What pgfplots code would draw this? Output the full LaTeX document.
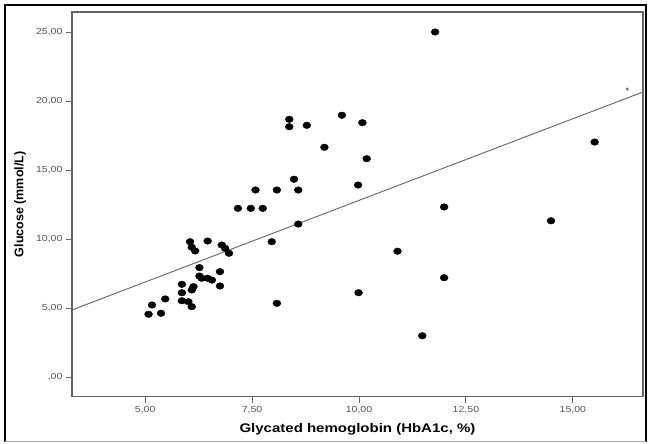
\documentclass[border=0pt]{standalone}
\usepackage{fontspec}
\setmainfont{Liberation Sans}
\newfontfamily\widesans[FakeStretch=1.2]{Liberation Sans}
\usepackage{pgfplots}
\pgfplotsset{compat=1.18}
\definecolor{axgray}{RGB}{100,100,100}
\definecolor{lblgray}{RGB}{85,85,85}
\begin{document}
\begin{tikzpicture}[x=1pt,y=1pt]
\path[use as bounding box] (0,0) rectangle (649,444);
\draw[black,line width=2pt] (5,2) -- (5,439) -- (646,439) -- (646,2);
\draw[black!35,line width=1pt] (5,2) -- (646,2);
\begin{axis}[
  at={(72pt,47.3pt)}, anchor=south west,
  scale only axis, width=571pt, height=384.7pt,
  xmin=3.29, xmax=16.64, ymin=-1.43, ymax=26.47,
  axis line style={axgray, line width=1.2pt},
  xtick={5,7.5,10,12.5,15},
  xticklabels={{5,00},{7,50},{10,00},{12,50},{15,00}},
  ytick={0,5,10,15,20,25},
  yticklabels={{,00},{5,00},{10,00},{15,00},{20,00},{25,00}},
  tick align=outside, major tick length=6pt,
  tick style={axgray, line width=0.9pt},
  xtick pos=bottom, ytick pos=left,
  tick label style={font=\widesans\fontsize{8.8}{9}\selectfont, text=lblgray},
  every axis x label/.style={at={(axis description cs:0.5,-0.0858)}, anchor=center},
  every axis y label/.style={at={(axis description cs:-0.091,0.5)}, rotate=90, anchor=center},
  xlabel={\widesans\bfseries\fontsize{12.5}{14}\selectfont Glycated hemoglobin (HbA1c, \%)},
  ylabel={\bfseries\fontsize{12.5}{14}\selectfont Glucose (mmol/L)},
  clip=false,
]
\addplot[axgray, line width=0.9pt] coordinates {(3.29,4.86) (16.64,20.67)};
\addplot[only marks, mark=*, mark size=3.3pt, black, mark options={xscale=1.2}] coordinates {
(5.08,4.55) (5.16,5.22) (5.37,4.62) (5.47,5.66)
(5.86,6.72) (5.86,6.11) (5.86,5.53) (6.01,5.46) (6.09,5.10)
(6.13,6.55) (6.09,6.31) (6.27,7.93) (6.27,7.32) (6.32,7.16)
(6.46,7.16) (6.56,7.03) (6.75,7.64) (6.75,6.60)
(6.05,9.81) (6.09,9.41) (6.17,9.14) (6.46,9.86)
(6.79,9.57) (6.87,9.33) (6.96,8.97)
(7.17,12.23) (7.47,12.23) (7.75,12.23)
(7.58,13.56) (8.08,13.56) (8.58,13.56) (8.48,14.34)
(8.58,11.09) (7.96,9.81) (8.08,5.34)
(8.37,18.69) (8.37,18.15) (8.78,18.25) (9.19,16.66)
(9.60,18.98) (10.08,18.44) (10.18,15.83) (9.98,13.92)
(9.99,6.11) (10.90,9.12) (11.99,12.33) (11.99,7.20)
(11.48,2.99) (11.78,25.02) (15.51,17.04) (14.49,11.33)
};
\addplot[only marks, mark=*, mark size=1.3pt, black!60] coordinates {(16.27,20.88)};
\end{axis}
\end{tikzpicture}
\end{document}
